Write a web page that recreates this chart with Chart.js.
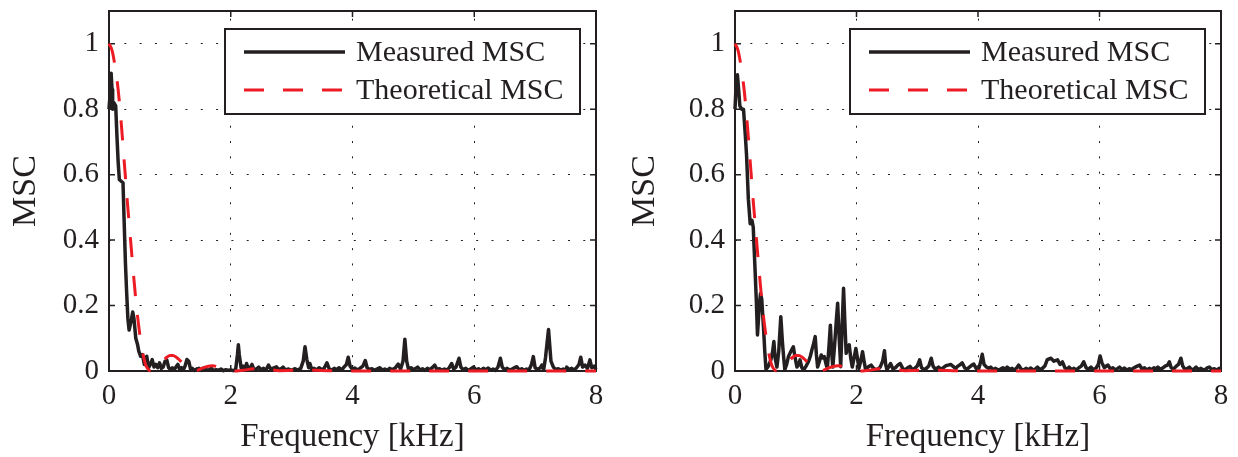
<!DOCTYPE html>
<html>
<head>
<meta charset="utf-8">
<script src="https://cdn.jsdelivr.net/npm/chart.js@4.4.1/dist/chart.umd.min.js"></script>
<style>
  html, body { margin: 0; padding: 0; background: #fff; }
  .panel { position: absolute; top: 0; width: 619px; height: 457px; }
</style>
</head>
<body>
<div class="panel" style="left:0"><canvas id="left" width="619" height="457"></canvas></div>
<div class="panel" style="left:619px"><canvas id="right" width="619" height="457"></canvas></div>
<script>
// axis ticks
const xTicks = [0, 2, 4, 6, 8];
const yTicks = [0, 0.2, 0.4, 0.6, 0.8, 1];

// theoretical MSC (same curve in both panels), kHz / value
const theoFreq = [0, 0.05, 0.1, 0.15, 0.2, 0.25, 0.3, 0.35, 0.4, 0.45, 0.5, 0.55, 0.6, 0.65, 0.7, 0.75, 0.8, 0.85, 0.9, 0.95,
  1.0, 1.05, 1.1, 1.15, 1.2, 1.25, 1.3, 1.35, 1.4, 1.45, 1.5, 1.6, 1.7, 1.8, 1.9, 2.0, 2.1, 2.2, 2.4, 2.6, 2.8, 3.0, 3.2, 3.4, 3.6, 4.0, 5.0, 6.0, 7.0, 8.0];
const theoMsc = [1.0, 0.98, 0.93, 0.86, 0.76, 0.64, 0.52, 0.41, 0.30, 0.20, 0.12, 0.06, 0.02, 0.004, 0, 0.003, 0.011, 0.022, 0.033, 0.042,
  0.047, 0.047, 0.043, 0.035, 0.025, 0.016, 0.007, 0.002, 0, 0.002, 0.006, 0.013, 0.016, 0.012, 0.005, 0.001, 0, 0.002, 0.007, 0.006, 0.001, 0.002, 0.004, 0.002, 0.001, 0, 0, 0, 0, 0];

// measured MSC, left panel
const leftFreq = [0, 0.02, 0.035, 0.05, 0.06, 0.08, 0.11, 0.13, 0.15, 0.17, 0.2, 0.23, 0.25, 0.27, 0.29, 0.31, 0.33, 0.36, 0.39, 0.41,
  0.44, 0.47, 0.49, 0.52, 0.55, 0.58, 0.6, 0.62, 0.65, 0.68, 0.71, 0.74, 0.77, 0.8, 0.83, 0.86, 0.89, 0.92, 0.95, 0.98,
  1.01, 1.04, 1.07, 1.1, 1.13, 1.16, 1.19, 1.22, 1.25, 1.28, 1.31, 1.34, 1.37, 1.4, 1.44, 1.48, 1.52, 1.56, 1.6, 1.64,
  1.68, 1.72, 1.76, 1.8, 1.84, 1.88, 1.92, 1.96, 2.0, 2.04, 2.08, 2.11, 2.125, 2.14, 2.17, 2.2, 2.23, 2.26, 2.29, 2.32,
  2.35, 2.38, 2.42, 2.46, 2.5, 2.54, 2.58, 2.62, 2.66, 2.7, 2.75, 2.79, 2.83, 2.86, 2.9, 2.95, 3.0, 3.05, 3.1, 3.15,
  3.19, 3.22, 3.25, 3.28, 3.3, 3.33, 3.37, 3.41, 3.45, 3.49, 3.53, 3.58, 3.62, 3.66, 3.7, 3.74, 3.78, 3.82, 3.86, 3.9,
  3.93, 3.96, 4.0, 4.04, 4.08, 4.12, 4.17, 4.21, 4.24, 4.28, 4.32, 4.36, 4.4, 4.45, 4.49, 4.53, 4.57, 4.61, 4.65, 4.7,
  4.75, 4.79, 4.83, 4.86, 4.89, 4.92, 4.96, 5.0, 5.04, 5.07, 5.11, 5.15, 5.19, 5.23, 5.27, 5.31, 5.35, 5.39, 5.43, 5.47,
  5.51, 5.55, 5.59, 5.63, 5.66, 5.7, 5.75, 5.78, 5.82, 5.86, 5.9, 5.94, 5.99, 6.03, 6.07, 6.11, 6.15, 6.19, 6.23, 6.27,
  6.31, 6.35, 6.39, 6.43, 6.46, 6.5, 6.54, 6.58, 6.62, 6.66, 6.7, 6.74, 6.78, 6.82, 6.86, 6.9, 6.94, 6.97, 7.0, 7.04,
  7.08, 7.11, 7.14, 7.17, 7.22, 7.26, 7.3, 7.34, 7.38, 7.42, 7.46, 7.5, 7.52, 7.56, 7.6, 7.64, 7.68, 7.72, 7.75, 7.78,
  7.82, 7.86, 7.9, 7.93, 7.97, 8.0];
const leftMsc = [0.80, 0.85, 0.91, 0.86, 0.80, 0.82, 0.81, 0.72, 0.64, 0.585, 0.58, 0.575, 0.45, 0.33, 0.24, 0.16, 0.125, 0.15, 0.18, 0.16,
  0.10, 0.08, 0.06, 0.045, 0.05, 0.02, 0.04, 0.045, 0.01, 0.02, 0.035, 0.012, 0.02, 0.01, 0.025, 0.008, 0.012, 0.03, 0.033, 0.01,
  0.005, 0.01, 0.004, 0.012, 0.02, 0.005, 0.01, 0.003, 0.015, 0.035, 0.03, 0.005, 0.008, 0.002, 0.006, 0.008, 0.002, 0.01, 0.004, 0.003,
  0.008, 0.002, 0.004, 0.002, 0.006, 0.001, 0.004, 0.002, 0.003, 0.001, 0.004, 0.05, 0.08, 0.05, 0.01, 0.015, 0.006, 0.023, 0.005, 0.01,
  0.02, 0.004, 0.006, 0.012, 0.004, 0.008, 0.003, 0.018, 0.005, 0.009, 0.013, 0.004, 0.007, 0.012, 0.003, 0.006, 0.002, 0.007, 0.003, 0.008,
  0.03, 0.074, 0.035, 0.01, 0.023, 0.005, 0.008, 0.003, 0.01, 0.004, 0.007, 0.025, 0.006, 0.003, 0.008, 0.004, 0.01, 0.003, 0.012, 0.02,
  0.042, 0.015, 0.005, 0.009, 0.003, 0.008, 0.015, 0.032, 0.01, 0.004, 0.007, 0.002, 0.006, 0.01, 0.003, 0.006, 0.002, 0.008, 0.004, 0.009,
  0.021, 0.006, 0.03, 0.097, 0.03, 0.006, 0.01, 0.004, 0.008, 0.012, 0.003, 0.007, 0.002, 0.008, 0.004, 0.01, 0.018, 0.004, 0.007, 0.002,
  0.006, 0.003, 0.01, 0.023, 0.006, 0.012, 0.039, 0.012, 0.004, 0.008, 0.002, 0.006, 0.012, 0.003, 0.007, 0.002, 0.008, 0.004, 0.009, 0.003,
  0.006, 0.002, 0.012, 0.039, 0.012, 0.004, 0.008, 0.003, 0.006, 0.01, 0.013, 0.003, 0.007, 0.002, 0.006, 0.003, 0.02, 0.044, 0.01, 0.005,
  0.009, 0.018, 0.004, 0.04, 0.127, 0.03, 0.012, 0.004, 0.007, 0.003, 0.006, 0.002, 0.012, 0.004, 0.008, 0.003, 0.01, 0.02, 0.042, 0.012,
  0.018, 0.008, 0.034, 0.01, 0.015, 0.005];

// measured MSC, right panel
const rightFreq = [0, 0.02, 0.04, 0.06, 0.08, 0.11, 0.14, 0.17, 0.19, 0.22, 0.25, 0.28, 0.3, 0.33, 0.35, 0.37, 0.4, 0.42, 0.44, 0.47,
  0.49, 0.51, 0.55, 0.59, 0.62, 0.64, 0.66, 0.69, 0.72, 0.754, 0.78, 0.8, 0.82, 0.85, 0.88, 0.92, 0.96, 0.99, 1.02, 1.05,
  1.07, 1.1, 1.13, 1.17, 1.21, 1.24, 1.265, 1.29, 1.32, 1.34, 1.36, 1.39, 1.42, 1.445, 1.47, 1.5, 1.52, 1.545, 1.57, 1.59,
  1.61, 1.64, 1.67, 1.69, 1.715, 1.74, 1.76, 1.787, 1.81, 1.83, 1.855, 1.88, 1.905, 1.93, 1.96, 1.99, 2.015, 2.04, 2.07, 2.1,
  2.125, 2.15, 2.19, 2.24, 2.28, 2.32, 2.35, 2.39, 2.43, 2.46, 2.48, 2.5, 2.53, 2.56, 2.6, 2.64, 2.68, 2.72, 2.76, 2.8,
  2.84, 2.88, 2.92, 2.96, 3.0, 3.04, 3.07, 3.11, 3.15, 3.19, 3.23, 3.26, 3.3, 3.35, 3.39, 3.43, 3.47, 3.51, 3.55, 3.59,
  3.63, 3.67, 3.71, 3.74, 3.78, 3.82, 3.86, 3.9, 3.93, 3.97, 4.01, 4.04, 4.07, 4.1, 4.14, 4.18, 4.21, 4.25, 4.29, 4.33,
  4.37, 4.41, 4.45, 4.48, 4.52, 4.56, 4.6, 4.64, 4.67, 4.71, 4.75, 4.79, 4.83, 4.87, 4.91, 4.95, 4.98, 5.02, 5.06, 5.1,
  5.14, 5.2, 5.25, 5.31, 5.35, 5.39, 5.43, 5.47, 5.5, 5.54, 5.58, 5.62, 5.66, 5.7, 5.74, 5.78, 5.82, 5.86, 5.9, 5.94,
  5.98, 6.01, 6.04, 6.08, 6.11, 6.14, 6.18, 6.22, 6.26, 6.3, 6.33, 6.37, 6.41, 6.45, 6.49, 6.53, 6.57, 6.62, 6.66, 6.7,
  6.74, 6.78, 6.82, 6.86, 6.9, 6.93, 6.96, 7.0, 7.04, 7.08, 7.12, 7.15, 7.18, 7.22, 7.26, 7.3, 7.34, 7.37, 7.41, 7.45,
  7.48, 7.52, 7.56, 7.59, 7.63, 7.67, 7.71, 7.75, 7.78, 7.81, 7.85, 7.89, 7.93, 7.97, 8.0];
const rightMsc = [0.80, 0.88, 0.905, 0.86, 0.81, 0.80, 0.80, 0.72, 0.66, 0.525, 0.45, 0.46, 0.44, 0.31, 0.22, 0.11, 0.20, 0.237, 0.22, 0.13,
  0.06, 0.005, 0.015, 0.034, 0.06, 0.09, 0.04, 0.012, 0.06, 0.166, 0.09, 0.044, 0.004, 0.02, 0.044, 0.06, 0.074, 0.04, 0.012, 0.02,
  0.034, 0.01, 0.003, 0.015, 0.029, 0.045, 0.064, 0.08, 0.105, 0.05, 0.012, 0.03, 0.049, 0.04, 0.044, 0.02, 0.008, 0.07, 0.14, 0.06,
  0.012, 0.08, 0.16, 0.207, 0.1, 0.013, 0.12, 0.253, 0.14, 0.054, 0.07, 0.08, 0.04, 0.012, 0.04, 0.069, 0.04, 0.008, 0.03, 0.059,
  0.03, 0.004, 0.012, 0.018, 0.008, 0.004, 0.006, 0.012, 0.03, 0.062, 0.02, 0.004, 0.012, 0.023, 0.006, 0.01, 0.018, 0.023, 0.008, 0.003,
  0.01, 0.014, 0.004, 0.008, 0.015, 0.034, 0.01, 0.004, 0.008, 0.015, 0.039, 0.015, 0.005, 0.012, 0.006, 0.01, 0.016, 0.018, 0.02, 0.014,
  0.008, 0.015, 0.02, 0.025, 0.01, 0.005, 0.012, 0.018, 0.021, 0.008, 0.006, 0.025, 0.051, 0.02, 0.012, 0.008, 0.012, 0.004, 0.008, 0.003,
  0.006, 0.01, 0.004, 0.012, 0.005, 0.008, 0.003, 0.01, 0.018, 0.006, 0.003, 0.008, 0.004, 0.009, 0.003, 0.007, 0.012, 0.004, 0.008, 0.015,
  0.035, 0.039, 0.03, 0.034, 0.02, 0.028, 0.01, 0.005, 0.012, 0.004, 0.008, 0.003, 0.01, 0.015, 0.028, 0.01, 0.005, 0.012, 0.004, 0.008,
  0.02, 0.046, 0.025, 0.01, 0.015, 0.018, 0.006, 0.01, 0.003, 0.008, 0.012, 0.004, 0.009, 0.003, 0.007, 0.004, 0.01, 0.015, 0.018, 0.006,
  0.01, 0.003, 0.008, 0.004, 0.01, 0.004, 0.012, 0.005, 0.009, 0.015, 0.018, 0.028, 0.01, 0.006, 0.014, 0.02, 0.039, 0.015, 0.004, 0.008,
  0.012, 0.003, 0.007, 0.012, 0.004, 0.008, 0.003, 0.006, 0.01, 0.012, 0.004, 0.007, 0.003, 0.008, 0.005];

const INK = '#231f20';
const RED = '#ed1c24';
const SERIF = "'Liberation Serif', 'Times New Roman', serif";

Chart.defaults.font.family = SERIF;
Chart.defaults.color = INK;

const toPoints = (xs, ys) => xs.map((x, i) => ({ x: x, y: ys[i] }));

// box and inward ticks under the data, legend on top, matlab style
const matlabFrame = {
  id: 'matlabFrame',
  beforeDatasetsDraw(chart) {
    const { ctx, chartArea: a, scales: { x, y } } = chart;
    ctx.save();
    ctx.strokeStyle = INK;
    ctx.lineWidth = 1.5;
    ctx.beginPath();
    x.ticks.forEach(t => {
      const px = x.getPixelForValue(t.value);
      ctx.moveTo(px, a.bottom); ctx.lineTo(px, a.bottom - 6);
      ctx.moveTo(px, a.top); ctx.lineTo(px, a.top + 6);
    });
    y.ticks.forEach(t => {
      const py = y.getPixelForValue(t.value);
      ctx.moveTo(a.left, py); ctx.lineTo(a.left + 6, py);
      ctx.moveTo(a.right, py); ctx.lineTo(a.right - 6, py);
    });
    ctx.stroke();
    ctx.lineWidth = 2;
    ctx.strokeRect(a.left, a.top, a.right - a.left, a.bottom - a.top);
    ctx.restore();
  },
  afterDatasetsDraw(chart) {
    const { ctx, chartArea: a } = chart;
    const bw = 355, bh = 85;
    const bx = a.right - 16 - bw, by = a.top + 18;
    ctx.save();
    ctx.fillStyle = '#fff';
    ctx.fillRect(bx, by, bw, bh);
    ctx.strokeStyle = INK;
    ctx.lineWidth = 2;
    ctx.strokeRect(bx, by, bw, bh);
    ctx.font = '30px ' + SERIF;
    ctx.textBaseline = 'middle';
    chart.data.datasets.forEach((ds, i) => {
      const ry = by + 23 + i * 38;
      ctx.save();
      ctx.strokeStyle = ds.borderColor;
      ctx.lineWidth = ds.borderWidth;
      ctx.setLineDash(ds.borderDash || []);
      ctx.beginPath();
      ctx.moveTo(bx + 19, ry);
      ctx.lineTo(bx + 120, ry);
      ctx.stroke();
      ctx.restore();
      ctx.fillStyle = INK;
      ctx.fillText(ds.label, bx + 131, ry + 1);
    });
    ctx.restore();
  }
};

function makeChart(id, freq, msc, yAxisWidth, padRight) {
  return new Chart(document.getElementById(id), {
    type: 'line',
    data: {
      datasets: [
        {
          label: 'Measured MSC',
          data: toPoints(freq, msc),
          borderColor: INK,
          borderWidth: 3.5,
          borderJoinStyle: 'round',
          pointRadius: 0,
          tension: 0,
          clip: false,
          order: 1
        },
        {
          label: 'Theoretical MSC',
          data: toPoints(theoFreq, theoMsc),
          borderColor: RED,
          borderWidth: 3,
          borderDash: [20, 19],
          pointRadius: 0,
          cubicInterpolationMode: 'monotone',
          clip: false,
          order: 0
        }
      ]
    },
    options: {
      responsive: false,
      animation: false,
      layout: { padding: { top: 11, right: padRight, left: 0, bottom: 0 } },
      plugins: { legend: { display: false }, tooltip: { enabled: false } },
      scales: {
        x: {
          type: 'linear',
          min: 0,
          max: 8,
          afterBuildTicks: s => { s.ticks = xTicks.map(v => ({ value: v })); },
          afterFit: s => { s.height = 86; s.paddingLeft = 0; s.paddingRight = 0; },
          grid: { color: INK, lineWidth: 1, drawTicks: false },
          border: { display: false, dash: [2, 13.3], dashOffset: 7.65 },
          ticks: { font: { size: 29 }, padding: 8, maxRotation: 0, callback: v => String(v) },
          title: { display: true, text: 'Frequency [kHz]', font: { size: 33 }, padding: 0 }
        },
        y: {
          min: 0,
          max: 1.1,
          afterBuildTicks: s => { s.ticks = yTicks.map(v => ({ value: v })); },
          afterFit: s => { s.width = yAxisWidth; s.paddingTop = 0; s.paddingBottom = 0; },
          grid: { color: INK, lineWidth: 1, drawTicks: false },
          border: { display: false, dash: [2, 13.3] },
          ticks: { font: { size: 29 }, padding: 10, callback: v => String(v) },
          title: { display: true, text: 'MSC', font: { size: 34 }, padding: { top: 6, bottom: 0 } }
        }
      }
    },
    plugins: [matlabFrame]
  });
}

makeChart('left', leftFreq, leftMsc, 109, 23);
makeChart('right', rightFreq, rightMsc, 116, 17);
</script>
</body>
</html>
